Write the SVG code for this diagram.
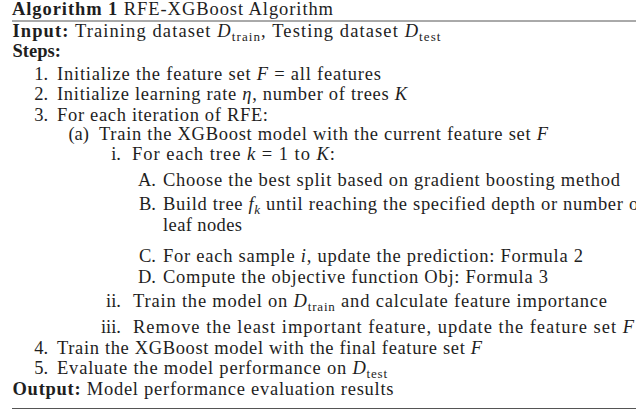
<svg xmlns="http://www.w3.org/2000/svg" width="636" height="414" viewBox="0 0 636 414">
<style>
text{font-family:"Liberation Serif","Times New Roman",serif;font-size:18.5px;fill:#1e1e1e}
.b{font-weight:bold}
.m{font-style:italic}
.s{font-size:13px}
.lab{text-anchor:end}
.rule{stroke:#555;stroke-width:1}
</style>
<rect width="636" height="414" fill="#fff"/>
<g id="header">
<text x="12" y="15" textLength="321" lengthAdjust="spacing"><tspan class="b">Algorithm 1</tspan> RFE-XGBoost Algorithm</text>
<line class="rule" x1="12" y1="21" x2="636" y2="21"/>
<text x="12.5" y="37" textLength="428" lengthAdjust="spacing"><tspan class="b">Input:</tspan> Training dataset <tspan class="m">D</tspan><tspan class="s" dy="3.5">train</tspan><tspan dy="-3.5">, Testing dataset </tspan><tspan class="m">D</tspan><tspan class="s" dy="3.5">test</tspan></text>
<text x="12.5" y="57" class="b">Steps:</text>
</g>
<g id="steps">
<text class="lab" x="48" y="80">1.</text>
<text x="57" y="80" textLength="324" lengthAdjust="spacing">Initialize the feature set <tspan class="m">F</tspan> = all features</text>
<text class="lab" x="48" y="100">2.</text>
<text x="57" y="100" textLength="350" lengthAdjust="spacing">Initialize learning rate <tspan class="m">η</tspan>, number of trees <tspan class="m">K</tspan></text>
<text class="lab" x="48" y="121">3.</text>
<text x="57" y="121" textLength="211" lengthAdjust="spacing">For each iteration of RFE:</text>
<text class="lab" x="89" y="140">(a)</text>
<text x="99" y="140" textLength="449" lengthAdjust="spacing">Train the XGBoost model with the current feature set <tspan class="m">F</tspan></text>
<text class="lab" x="121" y="160">i.</text>
<text x="132" y="160" textLength="203" lengthAdjust="spacing">For each tree <tspan class="m">k</tspan> = 1 to <tspan class="m">K</tspan>:</text>
<text class="lab" x="156" y="186">A.</text>
<text x="163" y="186" textLength="457" lengthAdjust="spacing">Choose the best split based on gradient boosting method</text>
<text class="lab" x="156" y="210">B.</text>
<text x="163" y="210" textLength="482" lengthAdjust="spacing">Build tree <tspan class="m">f</tspan><tspan class="s m" dy="3.5">k</tspan><tspan dy="-3.5"> until reaching the specified depth or number of</tspan></text>
<text x="163" y="231" textLength="79" lengthAdjust="spacing">leaf nodes</text>
<text class="lab" x="156" y="262">C.</text>
<text x="163" y="262" textLength="420" lengthAdjust="spacing">For each sample <tspan class="m">i</tspan>, update the prediction: Formula 2</text>
<text class="lab" x="156" y="283">D.</text>
<text x="163" y="283" textLength="385" lengthAdjust="spacing">Compute the objective function Obj: Formula 3</text>
<text class="lab" x="121" y="307">ii.</text>
<text x="133" y="307" textLength="474" lengthAdjust="spacing">Train the model on <tspan class="m">D</tspan><tspan class="s" dy="3.5">train</tspan><tspan dy="-3.5"> and calculate feature importance</tspan></text>
<text class="lab" x="121" y="333">iii.</text>
<text x="133" y="333" textLength="501" lengthAdjust="spacing">Remove the least important feature, update the feature set <tspan class="m">F</tspan></text>
<text class="lab" x="48" y="354">4.</text>
<text x="57" y="354" textLength="425" lengthAdjust="spacing">Train the XGBoost model with the final feature set <tspan class="m">F</tspan></text>
<text class="lab" x="48" y="374">5.</text>
<text x="57" y="374" textLength="330" lengthAdjust="spacing">Evaluate the model performance on <tspan class="m">D</tspan><tspan class="s" dy="3.5">test</tspan></text>
</g>
<g id="footer">
<text x="12.5" y="395" textLength="381" lengthAdjust="spacing"><tspan class="b">Output:</tspan> Model performance evaluation results</text>
<line class="rule" x1="12" y1="408.5" x2="636" y2="408.5"/>
</g>
</svg>
